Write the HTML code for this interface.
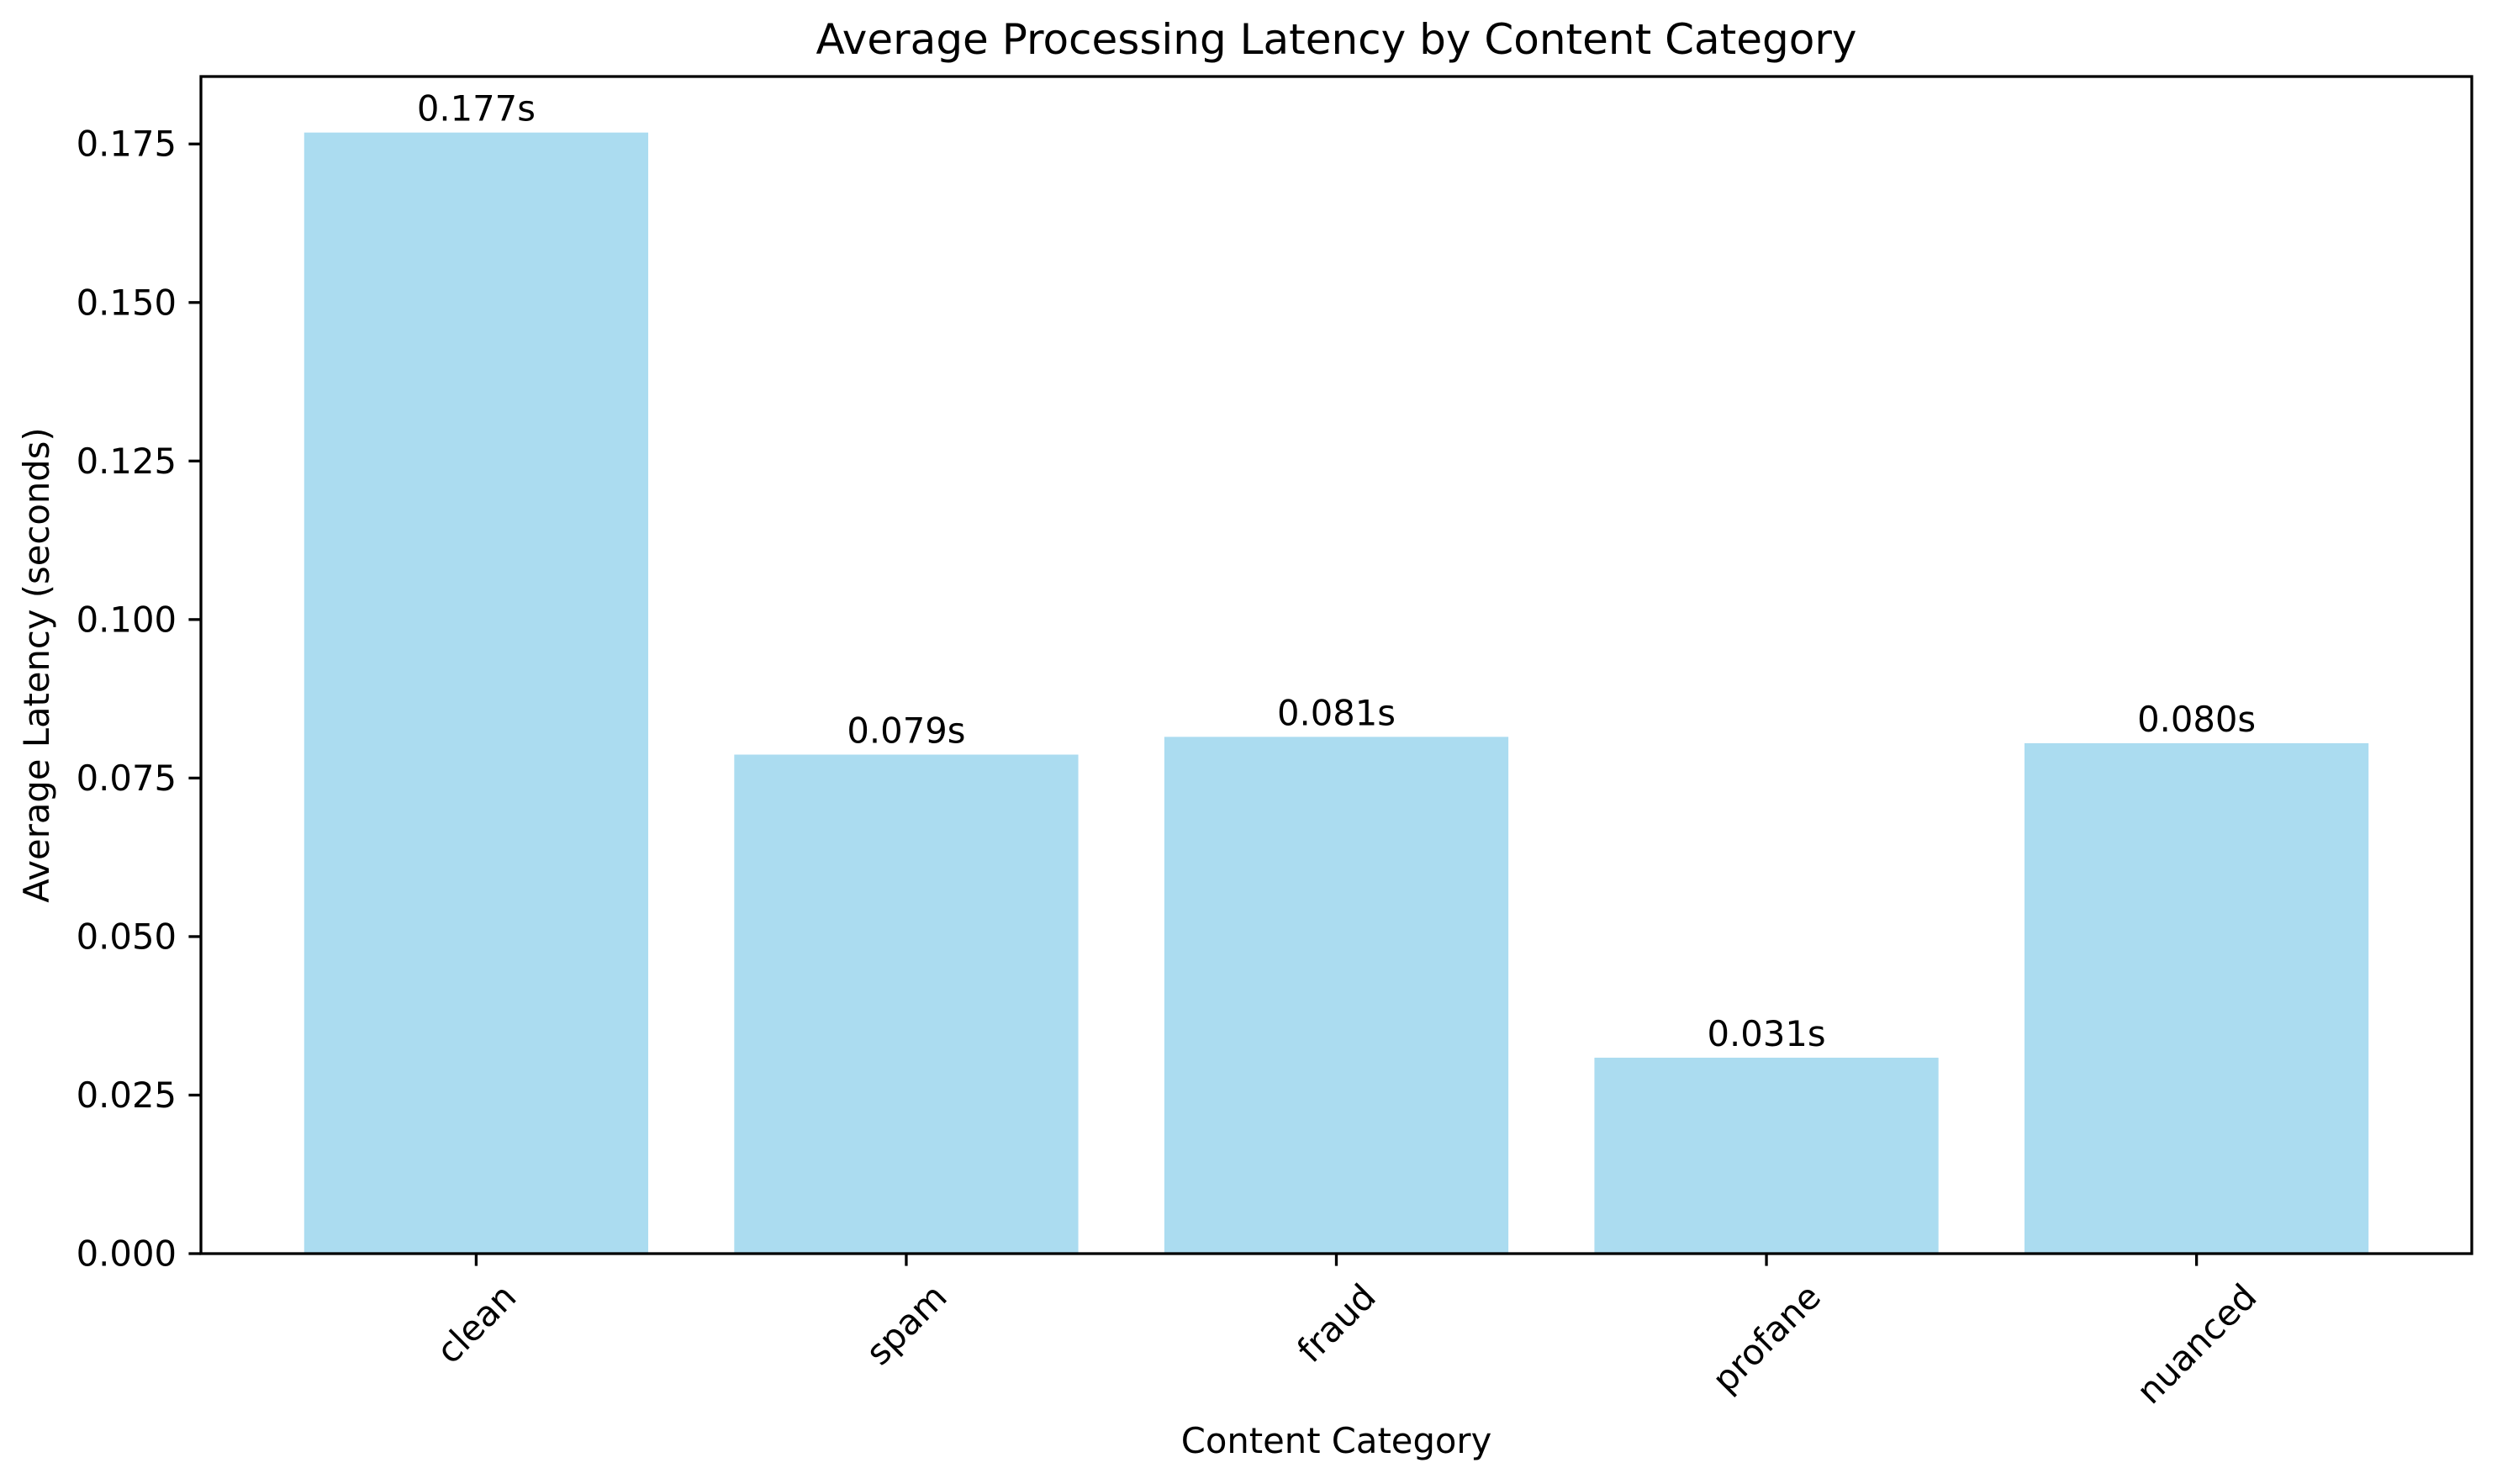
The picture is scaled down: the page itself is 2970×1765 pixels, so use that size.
<!DOCTYPE html>
<html><head><meta charset="utf-8"><style>
html,body{margin:0;padding:0;background:#fff;}
svg{display:block;font-family:"DejaVu Sans","Liberation Sans",sans-serif;}
</style></head><body>
<svg id="chart" width="2970" height="1765" viewBox="0 0 2970 1765" xmlns="http://www.w3.org/2000/svg">
<rect width="2970" height="1765" fill="#fff"/>
<text x="1589.5" y="64" font-size="50" text-anchor="middle">Average Processing Latency by Content Category</text>
<text x="1589.5" y="1728" font-size="41.7" text-anchor="middle">Content Category</text>
<text transform="translate(58,791) rotate(-90)" font-size="41.7" text-anchor="middle">Average Latency (seconds)</text>
<g id="bars"></g>
<g id="ticks"></g>
<rect x="239" y="91" width="2701" height="1400" fill="none" stroke="#000" stroke-width="3.3"/>
</svg>
<script>
const categories = ["clean","spam","fraud","profane","nuanced"];
const latencies = [0.1768,0.0787,0.0815,0.0309,0.0805];
const valueLabels = ["0.177s","0.079s","0.081s","0.031s","0.080s"];
const yTicks = [0,0.025,0.05,0.075,0.1,0.125,0.15,0.175];
const yTickLabels = ["0.000","0.025","0.050","0.075","0.100","0.125","0.150","0.175"];

const NS="http://www.w3.org/2000/svg";
const L=239,R=2940,T=91,B=1491;
const n=categories.length;
const xmin=-0.64,xmax=n-1+0.64;
const ymax=Math.max(...latencies)*1.05;
const xs=v=>L+(v-xmin)/(xmax-xmin)*(R-L);
const ys=v=>B-v/ymax*(B-T);
const bars=document.getElementById('bars');
const ticks=document.getElementById('ticks');
function mk(tag,attrs,parent){const e=document.createElementNS(NS,tag);for(const k in attrs)e.setAttribute(k,attrs[k]);parent.appendChild(e);return e;}
const bw=(xs(0.4)-xs(-0.4));
categories.forEach((c,i)=>{
  const r=mk('rect',{x:xs(i)-bw/2,y:ys(latencies[i]),width:bw,height:B-ys(latencies[i]),fill:'#abdcf0'},bars);
  
  
  const t=mk('text',{x:xs(i),y:ys(latencies[i])-14,'font-size':41.7,'text-anchor':'middle'},bars);
  t.textContent=valueLabels[i];
  
  
  const tk=mk('line',{x1:xs(i),x2:xs(i),y1:B,y2:B+14.6,stroke:'#000','stroke-width':3.3},ticks);
  
  
  const lb=mk('text',{'font-size':41.7,'text-anchor':'middle','dominant-baseline':'central'},ticks);
  lb.textContent=c;
  
  
  const w=lb.getComputedTextLength();
  const h=(w+41.7)*0.7071;
  const cy=B+29+h/2;
  lb.setAttribute('x',xs(i));lb.setAttribute('y',cy);
  lb.setAttribute('transform','rotate(-45 '+xs(i)+' '+cy+')');
});
yTicks.forEach((v,i)=>{
  const tk=mk('line',{x1:L-14.6,x2:L,y1:ys(v),y2:ys(v),stroke:'#000','stroke-width':3.3},ticks);
  
  
  const lb=mk('text',{x:L-29,y:ys(v),'font-size':41.7,'text-anchor':'end','dominant-baseline':'central'},ticks);
  lb.textContent=yTickLabels[i];
  
  
});
</script>
</body></html>
